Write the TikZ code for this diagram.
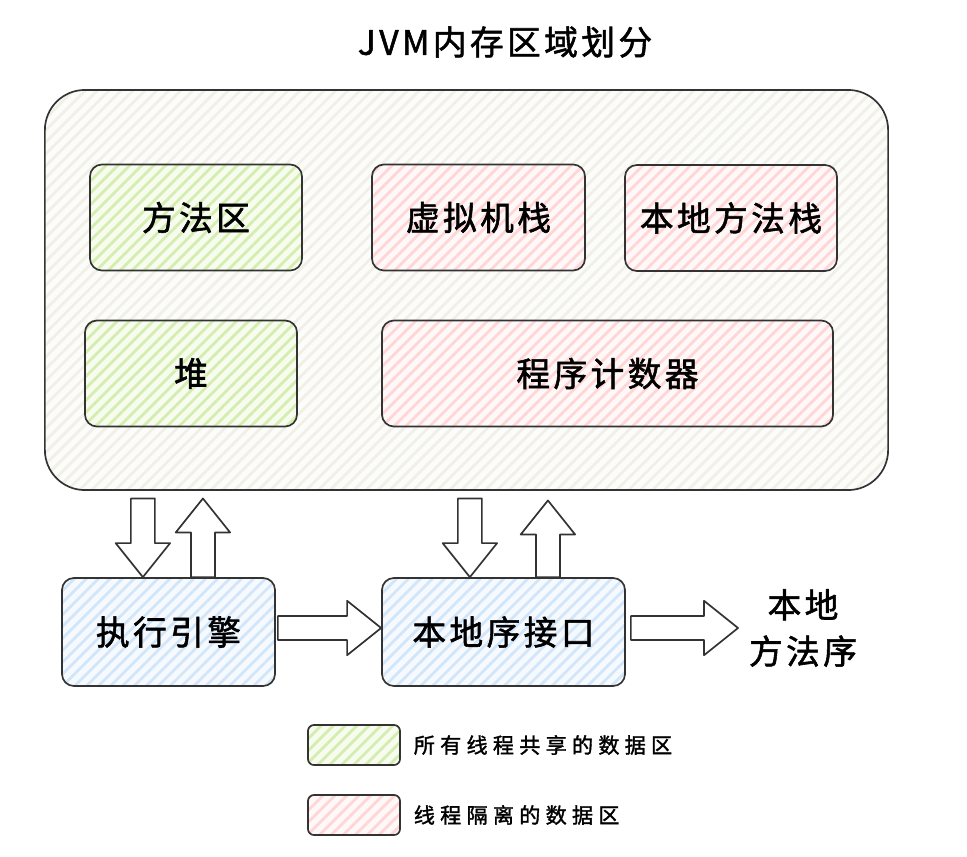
\documentclass[tikz,border=0pt]{standalone}
\usepackage{fontspec}
\setmainfont{Noto Sans CJK SC}
\newfontfamily\cjkfont{Noto Sans CJK SC}[LetterSpace=10, FakeBold=1.6]
\newfontfamily\legendfont{Noto Sans CJK SC}[LetterSpace=25, FakeBold=1.6]
\usepackage{tikz}
\usetikzlibrary{arrows.meta,calc,positioning,patterns.meta}
\usepackage{xcolor}

\definecolor{inkgray}{HTML}{333333}
\definecolor{outerfill}{HTML}{FCFCFA}
\definecolor{outerline}{HTML}{F0F0E6}
\definecolor{greenfill}{HTML}{F7FCEF}
\definecolor{greenline}{HTML}{D4EEB2}
\definecolor{pinkfill}{HTML}{FFF8F8}
\definecolor{pinkline}{HTML}{FFD6D6}
\definecolor{bluefill}{HTML}{F6FAFF}
\definecolor{blueline}{HTML}{D2E6FA}

% hohler Blockpfeil von #1 nach #2
\newcommand{\fatarrow}[2]{%
    \path ($(#2)!0.85cm!(#1)$) coordinate (fathead);
    \draw[fat]
        ($(#1)!0.3cm!90:(#2)$) -- ($(fathead)!0.3cm!90:(#2)$)
        -- ($(fathead)!0.68cm!90:(#2)$) -- (#2)
        -- ($(fathead)!0.68cm!-90:(#2)$) -- ($(fathead)!0.3cm!-90:(#2)$)
        -- ($(#1)!0.3cm!-90:(#2)$) -- cycle;
}

\begin{document}
\begin{tikzpicture}[
    x=0.025cm, y=-0.025cm,
    ink/.style={draw=inkgray, line width=1.2pt},
    hatch/.style={pattern={Lines[angle=45,distance=6pt,line width=2pt]}},
    bigtext/.style={font=\cjkfont\fontsize{24}{33}\selectfont, text=black},
    area/.style={ink, hatch, rounded corners=0.3cm, bigtext, minimum height=2.65cm},
    shared/.style={area, preaction={fill=greenfill}, pattern color=greenline},
    private/.style={area, preaction={fill=pinkfill}, pattern color=pinkline},
    engine/.style={area, preaction={fill=bluefill}, pattern color=blueline},
    keybox/.style={ink, hatch, rounded corners=0.15cm, minimum width=2.3cm, minimum height=1cm},
    keytext/.style={font=\legendfont\fontsize{15}{18}\selectfont, text=black},
    fat/.style={ink, fill=white, line join=round}
]

\useasboundingbox (0,0) rectangle (967,856);

% Titel
\node[bigtext] (title) at (505,42) {JVM内存区域划分};

% Laufzeitdatenbereich
\node[
    ink, hatch,
    rounded corners=1cm,
    preaction={fill=outerfill},
    pattern color=outerline,
    minimum width=21.075cm,
    minimum height=10cm
] (jvm) at (466.5,290) {};

\node[shared, minimum width=5.3cm] (method) at (196,217.5) {方法区};
\node[private, minimum width=5.325cm] (vmstack) at (478.5,217.5) {虚拟机栈};
\node[private, minimum width=5.3cm] (nstack) at (731,218) {本地方法栈};
\node[shared, minimum width=5.3cm] (heap) at (191,373.5) {堆};
\node[private, minimum width=11.275cm] (pc) at (607.5,373.5) {程序计数器};

% untere Reihe
\node[engine, minimum width=5.325cm, minimum height=2.7cm] (exec) at (168.5,632) {执行引擎};
\node[engine, minimum width=6.075cm, minimum height=2.7cm] (native) at (503.5,632) {本地序接口};
\node[bigtext, align=center] (lib) at (803,628) {本地\\方法序};

% Pfeile
\coordinate (d1e) at ([xshift=-0.64cm]exec.north);
\coordinate (d1s) at ($(d1e |- jvm.south)+(0,7)$);
\coordinate (u1s) at ([xshift=0.86cm]exec.north);
\coordinate (u1e) at ($(u1s |- jvm.south)+(0,7)$);
\coordinate (d2e) at ([xshift=-0.84cm]native.north);
\coordinate (d2s) at ($(d2e |- jvm.south)+(0,7)$);
\coordinate (u2s) at ([xshift=1.11cm]native.north);
\coordinate (u2e) at ($(u2s |- jvm.south)+(0,9)$);
\coordinate (r1s) at ($(exec.east)+(2,-4)$);
\coordinate (r1e) at (native.west |- r1s);
\coordinate (r2s) at ($(native.east)+(5,-4)$);
\coordinate (r2e) at ($(lib.west |- r2s)+(-6,0)$);

\fatarrow{d1s}{d1e}
\fatarrow{u1s}{u1e}
\fatarrow{d2s}{d2e}
\fatarrow{u2s}{u2e}
\fatarrow{r1s}{r1e}
\fatarrow{r2s}{r2e}

% Legende
\node[keybox, preaction={fill=greenfill}, pattern color=greenline] (key1) at (354,745) {};
\node[keytext, right=0.2cm of key1] (key1t) {所有线程共享的数据区};
\node[keybox, preaction={fill=pinkfill}, pattern color=pinkline] (key2) at (354,815) {};
\node[keytext, right=0.2cm of key2] (key2t) {线程隔离的数据区};

\end{tikzpicture}
\end{document}
